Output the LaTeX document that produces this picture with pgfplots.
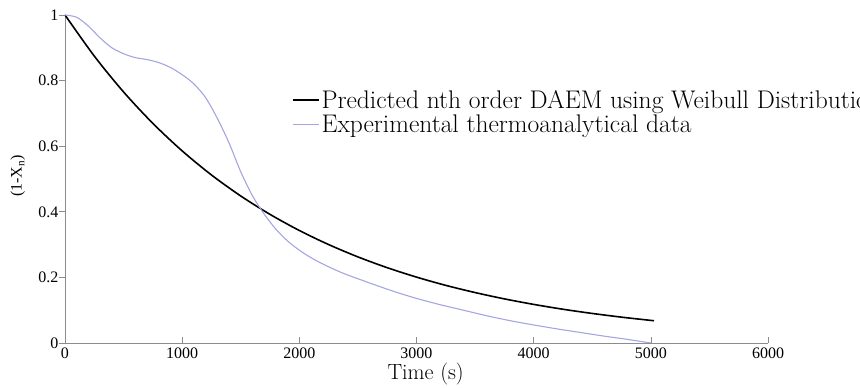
\documentclass[border=0pt]{standalone}
\usepackage{fontspec}
\newfontfamily\timesf{Liberation Serif}
\usepackage{pgfplots}
\pgfplotsset{compat=1.18}
\definecolor{expblue}{RGB}{165,165,225}
\definecolor{axgray}{RGB}{140,140,140}
\begin{document}
\begin{tikzpicture}
\useasboundingbox (-65pt,-45pt) rectangle (795pt,343pt);
\begin{axis}[
  at={(0pt,0pt)}, anchor=south west,
  scale only axis, width=703pt, height=328pt,
  xmin=0, xmax=6000, ymin=0, ymax=1,
  axis x line=bottom, axis y line=left,
  axis line style={-, axgray, line width=0.8pt},
  xtick={0,1000,...,6000}, ytick={0,0.2,0.4,0.6,0.8,1},
  yticklabels={0,0.2,0.4,0.6,0.8,1},
  xtick align=inside, ytick align=outside,
  major tick length=6pt,
  tick style={axgray, line width=0.6pt},
  /pgf/number format/1000 sep={},
  /pgf/number format/assume math mode=true,
  tick label style={font=\timesf\fontsize{16}{18}\selectfont, black},
  xticklabel style={yshift=-1pt},
  yticklabel style={xshift=3pt},
  xlabel={Time (s)},
  xlabel style={at={(axis description cs:0.513,0)}, anchor=base, yshift=-37pt, font=\fontsize{22}{24}\selectfont},
  ylabel={(1-X\textsubscript{n})},
  ylabel style={at={(axis description cs:-0.067,0.509)}, anchor=center, font=\timesf\fontsize{16}{18}\selectfont},
  legend style={at={(0.3225,0.778)}, anchor=north west, draw=none, fill=none,
    font=\fontsize{25.5}{28}\selectfont, row sep=1pt, inner sep=0pt},
  legend cell align=left,
  legend image code/.code={\draw[#1] (0pt,0pt) -- (26pt,0pt);},
]
\addplot[black, line width=1.6pt, smooth] coordinates {
(0,1.000) (250,0.8748) (500,0.7653) (750,0.6695) (1000,0.5857) (1250,0.5123)
(1500,0.4482) (1750,0.3921) (2000,0.3430) (2250,0.3001) (2500,0.2625)
(2750,0.2296) (3000,0.2009) (3250,0.1757) (3500,0.1538) (3750,0.1345)
(4000,0.1177) (4250,0.1029) (4500,0.0901) (4750,0.0788) (5000,0.0689) (5025,0.0680)
};
\addlegendentry{Predicted nth order DAEM using Weibull Distribution}
\addplot[expblue, line width=1.1pt, smooth] coordinates {
(0,1.000) (100,0.993) (200,0.966) (300,0.930) (400,0.900) (500,0.882)
(600,0.870) (700,0.864) (800,0.855) (900,0.840) (1000,0.818) (1100,0.790)
(1200,0.748) (1300,0.685) (1400,0.610) (1500,0.522) (1600,0.449) (1700,0.393)
(1800,0.347) (1900,0.311) (2000,0.283) (2100,0.260) (2200,0.241) (2300,0.224)
(2400,0.209) (2600,0.183) (2800,0.158) (3000,0.136) (3200,0.117) (3400,0.100)
(3600,0.083) (3800,0.068) (4000,0.055) (4200,0.043) (4400,0.032) (4600,0.021)
(4800,0.011) (5000,0.000)
};
\addlegendentry{Experimental thermoanalytical data}
\end{axis}
\end{tikzpicture}
\end{document}
